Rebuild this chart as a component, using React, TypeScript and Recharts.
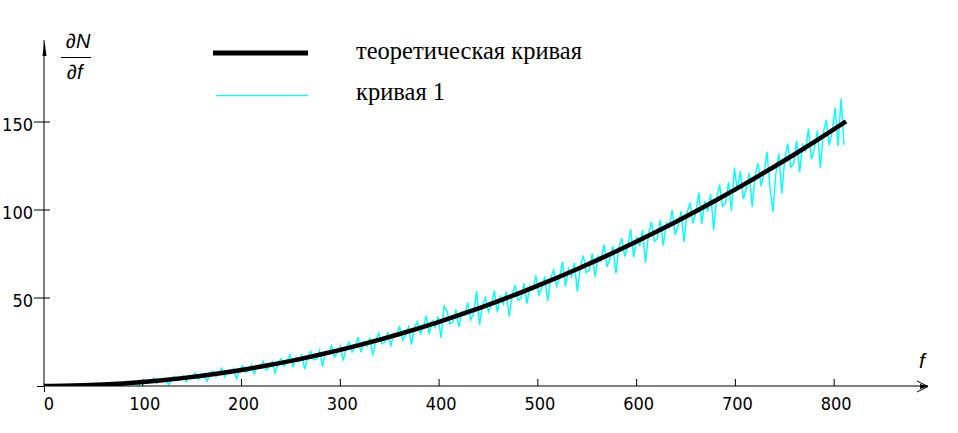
import React from 'react';
import { LineChart, Line, XAxis, YAxis } from 'recharts';

// theoretical curve, every 20 units of f
const theoryF = [
  0, 20, 40, 60, 80, 100, 120, 140, 160, 180, 200, 220, 240, 260, 280, 300, 320, 340, 360, 380, 400,
  420, 440, 460, 480, 500, 520, 540, 560, 580, 600, 620, 640, 660, 680, 700, 720, 740, 760, 780, 800, 812,
];
const theoryN = [
  0, 0.09, 0.36, 0.82, 1.46, 2.28, 3.28, 4.47, 5.84, 7.39, 9.12, 11.04, 13.13, 15.41, 17.88, 20.52,
  23.35, 26.36, 29.55, 32.92, 36.48, 40.22, 44.14, 48.24, 52.53, 57.0, 61.65, 66.48, 71.5, 76.7, 82.08,
  87.64, 93.39, 99.32, 105.43, 111.72, 118.2, 124.85, 131.69, 138.72, 145.92, 150.3,
];

// "кривая 1", one value every 3 units of f, starting at f = 0
const curve1Step = 3;
const curve1N = [
  0, 0, 0, 0.05, 0, 0.24, 0, 0, 0.29, 0,
  0.28, 0.59, 0, 0.31, 1.01, 0, 0.75, 0.3, 1.09, 0,
  0.89, 1.61, 0.47, 0.62, 1.83, 0.09, 1.65, 1.32, 2.66, 0.74,
  1.44, 2.6, 0.03, 2.45, 3.41, 1.56, 2.54, 4.45, 1.41, 3.65,
  2.6, 4.42, 0.62, 3.94, 5.46, 3.09, 3.4, 5.81, 2.45, 5.43,
  4.79, 7.24, 3.78, 5.04, 7.08, 2.66, 6.81, 8.42, 5.32, 6.94,
  10.04, 5.16, 8.73, 7.07, 9.92, 4.03, 9.16, 11.49, 7.87, 8.37,
  11.95, 6.97, 11.38, 10.43, 14.0, 8.99, 10.82, 13.74, 7.45, 13.35,
  15.58, 11.26, 13.52, 17.81, 11.06, 15.99, 13.72, 17.6, 9.61, 16.55,
  19.68, 14.83, 15.49, 20.28, 11.0, 19.49, 18.26, 22.94, 16.38, 18.77,
  22.56, 14.41, 22.04, 24.92, 19.37, 22.26, 27.74, 19.12, 25.4, 22.53,
  27.45, 17.36, 26.12, 30.04, 23.96, 24.79, 30.76, 22.53, 29.77, 28.25,
  34.04, 25.93, 28.88, 33.55, 23.55, 32.91, 36.43, 29.65, 33.19, 39.84,
  29.38, 36.99, 33.51, 39.46, 27.29, 45.5, 42.57, 35.26, 36.27, 43.43,
  33.56, 42.24, 40.42, 47.31, 37.66, 41.17, 54.0, 34.86, 45.96, 50.11,
  42.09, 46.28, 54.12, 41.79, 50.76, 46.67, 53.65, 39.39, 51.77, 57.28,
  48.72, 49.91, 58.25, 46.77, 56.86, 54.75, 62.75, 51.56, 55.64, 62.05,
  48.32, 61.16, 65.97, 56.71, 61.54, 70.58, 56.38, 66.69, 61.99, 70.0,
  53.63, 67.85, 74.15, 64.37, 65.72, 75.26, 62.14, 73.67, 71.25, 80.36,
  67.62, 72.26, 79.56, 63.98, 78.55, 84.0, 73.5, 78.97, 89.2, 73.15,
  84.8, 79.49, 88.53, 70.07, 86.09, 93.2, 82.18, 83.71, 94.44, 79.69,
  92.63, 89.92, 100.15, 85.86, 91.06, 99.23, 81.79, 98.1, 104.19, 92.47,
  98.57, 109.98, 92.08, 105.07, 99.16, 109.23, 88.68, 106.51, 114.42, 102.16,
  103.86, 115.78, 99.42, 124.0, 110.77, 122.1, 106.27, 112.04, 121.08, 101.78,
  119.83, 126.55, 113.59, 120.34, 132.95, 113.19, 99.0, 120.99, 132.11, 109.46,
  129.1, 137.81, 124.32, 126.19, 139.29, 121.31, 137.09, 133.78, 146.24, 128.85,
  135.19, 145.11, 123.95, 143.73, 151.09, 136.9, 144.29, 158.07, 136.45, 163.5,
  137.0,
];

const xTicks = [0, 100, 200, 300, 400, 500, 600, 700, 800];
const yTicks = [50, 100, 150];
const seriesNames = ['теоретическая кривая', 'кривая 1'];

const theoryData = theoryF.map((f, i) => ({ f, n: theoryN[i] }));
const curve1Data = curve1N.map((n, i) => ({ f: i * curve1Step, n }));

const tickFont = 'Liberation Sans Narrow, DejaVu Sans Condensed, sans-serif';
const serif = 'Liberation Serif, Times New Roman, DejaVu Serif, serif';
const mathFont = 'Liberation Sans, Arial, sans-serif';

function XTick({ x, y, payload }: any) {
  const v = payload.value;
  return (
    <g>
      {v !== 0 && <line x1={x} x2={x} y1={y - 7} y2={y} stroke="#000" />}
      <text x={x + (v === 0 ? 5 : 2)} y={y + 23.5} textAnchor="middle" style={{ fontFamily: tickFont, fontSize: 18 }} fill="#000">
        {v}
      </text>
    </g>
  );
}

function YTick({ x, y, payload }: any) {
  return (
    <g>
      <line x1={x - 10} x2={x + 6} y1={y} y2={y} stroke="#000" />
      <text x={x - 11} y={y + 8.5} textAnchor="end" style={{ fontFamily: tickFont, fontSize: 18 }} fill="#000">
        {payload.value}
      </text>
    </g>
  );
}

export default function App() {
  return (
    <div style={{ position: 'absolute', left: 0, top: 0, width: 958, height: 433, background: '#fff' }}>
      <LineChart width={958} height={433} margin={{ top: 40, right: 30, bottom: 46, left: 43 }}>
        <XAxis
          type="number"
          dataKey="f"
          domain={[0, 895]}
          ticks={xTicks}
          height={1}
          tickSize={0}
          tickMargin={0}
          tickLine={false}
          axisLine={{ stroke: '#000' }}
          tick={<XTick />}
          interval={0}
          allowDataOverflow
        />
        <YAxis
          type="number"
          domain={[0, 196.6]}
          ticks={yTicks}
          width={1}
          tickSize={0}
          tickMargin={0}
          tickLine={false}
          axisLine={{ stroke: '#000' }}
          tick={<YTick />}
          interval={0}
          allowDataOverflow
        />
        <Line
          data={curve1Data}
          dataKey="n"
          type="linear"
          stroke="#00ffff"
          strokeWidth={1.4}
          dot={false}
          isAnimationActive={false}
        />
        <Line
          data={theoryData}
          dataKey="n"
          type="monotone"
          stroke="#000"
          strokeWidth={4.5}
          dot={false}
          isAnimationActive={false}
        />
      </LineChart>

      <svg
        width={958}
        height={433}
        style={{ position: 'absolute', left: 0, top: 0, pointerEvents: 'none' }}
      >
        {/* axis stubs and arrows */}
        <line x1={37} x2={44} y1={386.5} y2={386.5} stroke="#000" />
        <line x1={44.5} x2={44.5} y1={386} y2={392} stroke="#000" />
        <polygon points="44.5,41 42.5,56 46.5,56" fill="#000" />
        <polyline points="917,381 928,386.5 917,392" fill="none" stroke="#000" />
        <polygon points="920,384 928,386.5 920,389" fill="#000" />

        {/* y label dN/df */}
        <text x={66} y={48} style={{ fontFamily: mathFont, fontStyle: 'italic', fontSize: 20 }} fill="#000">∂N</text>
        <line x1={61} x2={91} y1={57.5} y2={57.5} stroke="#000" />
        <text x={67} y={79} style={{ fontFamily: mathFont, fontStyle: 'italic', fontSize: 20 }} fill="#000">∂f</text>
        {/* x label */}
        <text x={919} y={368} style={{ fontFamily: mathFont, fontStyle: 'italic', fontSize: 21 }} fill="#000">f</text>

        {/* legend */}
        <line x1={213} x2={308} y1={53} y2={53} stroke="#000" strokeWidth={5} />
        <text x={356} y={58.5} style={{ fontFamily: serif, fontSize: 24.5 }} fill="#000">{seriesNames[0]}</text>
        <line x1={216} x2={308} y1={95.5} y2={95.5} stroke="#30e8e8" strokeWidth={1.5} />
        <text x={356} y={100} style={{ fontFamily: serif, fontSize: 24.5 }} fill="#000">{seriesNames[1]}</text>
      </svg>
    </div>
  );
}
